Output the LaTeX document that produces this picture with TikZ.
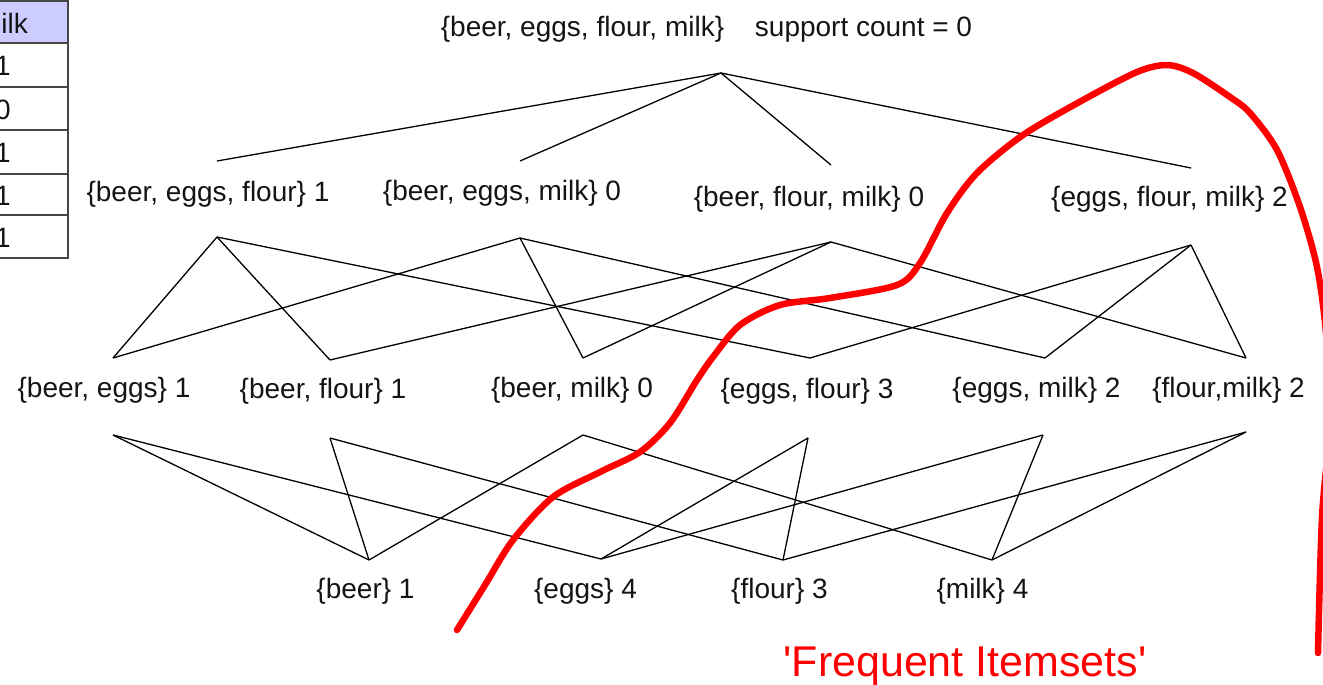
\documentclass[tikz,border=0pt]{standalone}
\usepackage{fontspec}
\setmainfont{Liberation Sans}
\definecolor{hdrfill}{RGB}{204,204,255}
\definecolor{tblline}{RGB}{70,70,70}
\definecolor{txt}{RGB}{20,20,20}
\definecolor{curvered}{RGB}{255,0,0}
\begin{document}
\begin{tikzpicture}[x=1pt,y=-1pt,
  lbl/.style={font=\fontsize{28}{32}\selectfont, inner sep=0pt, text=txt, anchor=base},
  cell/.style={font=\fontsize{28}{32}\selectfont, inner sep=0pt, text=txt},
  edge/.style={draw=black, line width=1.3pt},
  border/.style={draw=tblline, line width=2pt},
  frontier/.style={draw=curvered, line width=6.5pt, line cap=round, line join=round},
  redtext/.style={font=\fontsize{43}{50}\selectfont, inner sep=0pt, text=curvered, anchor=base}]
\useasboundingbox (0,0) rectangle (1323,685);
\clip (0,0) rectangle (1323,685);

% table (partly cut off at the left)
\fill[hdrfill] (-62,1) rectangle (68,43);
\draw[border] (-62,1) rectangle (68,258);
\foreach \yy in {43,87,130,174,215} \draw[border] (-62,\yy) -- (68,\yy);
\node[cell] (hmilk) at (3,23) {milk};
\node[cell] (r1) at (3,66) {1};
\node[cell] (r2) at (3,109.5) {0};
\node[cell] (r3) at (3,153) {1};
\node[cell] (r4) at (3,195.5) {1};
\node[cell] (r5) at (3,237.5) {1};

% labels
\node[lbl] (all) at (582.5,37) {\{beer, eggs, flour, milk\}};
\node[lbl] (sc) at (863.5,37) {support count = 0};

\node[lbl] (BEF) at (208,201) {\{beer, eggs, flour\} 1};
\node[lbl] (BEM) at (502,200) {\{beer, eggs, milk\} 0};
\node[lbl] (BFM) at (809,206) {\{beer, flour, milk\} 0};
\node[lbl] (EFM) at (1169.5,206) {\{eggs, flour, milk\} 2};

\node[lbl] (BE) at (104,397) {\{beer, eggs\} 1};
\node[lbl] (BF) at (323,398) {\{beer, flour\} 1};
\node[lbl] (BM) at (572,397) {\{beer, milk\} 0};
\node[lbl] (EF) at (807,398) {\{eggs, flour\} 3};
\node[lbl] (EM) at (1036.5,397) {\{eggs, milk\} 2};
\node[lbl] (FM) at (1228.5,397) {\{flour,milk\} 2};

\node[lbl] (B) at (365.5,598) {\{beer\} 1};
\node[lbl] (E) at (585.5,598) {\{eggs\} 4};
\node[lbl] (F) at (779.5,598) {\{flour\} 3};
\node[lbl] (M) at (982.5,598) {\{milk\} 4};

\node[redtext] (freq) at (965,676) {\textquotesingle Frequent Itemsets\textquotesingle};

% connection points
\coordinate (allb) at (721,73);
\coordinate (BEFt) at (217,161);  \coordinate (BEFb) at (217,237);
\coordinate (BEMt) at (520,161);  \coordinate (BEMb) at (520,238);
\coordinate (BFMt) at (831,165);  \coordinate (BFMb) at (831,242);
\coordinate (EFMt) at (1191,168); \coordinate (EFMb) at (1191,245);
\coordinate (BEt) at (113,358);   \coordinate (BEb) at (113,435);
\coordinate (BFt) at (330,360);   \coordinate (BFb) at (330,438);
\coordinate (BMt) at (583,358);   \coordinate (BMb) at (583,435);
\coordinate (EFt) at (810,358);   \coordinate (EFb) at (808,438);
\coordinate (EMt) at (1045,358);  \coordinate (EMb) at (1043,435);
\coordinate (FMt) at (1246,358);  \coordinate (FMb) at (1246,432);
\coordinate (Bt) at (369,560);
\coordinate (Et) at (601,559);
\coordinate (Ft) at (783,560);
\coordinate (Mt) at (992,560);

% level 0 -> 1
\foreach \t in {BEF,BEM,BFM,EFM} \draw[edge] (allb) -- (\t t);
% level 1 -> 2
\draw[edge] (BEFb) -- (BEt); \draw[edge] (BEFb) -- (BFt); \draw[edge] (BEFb) -- (EFt);
\draw[edge] (BEMb) -- (BEt); \draw[edge] (BEMb) -- (BMt); \draw[edge] (BEMb) -- (EMt);
\draw[edge] (BFMb) -- (BFt); \draw[edge] (BFMb) -- (BMt); \draw[edge] (BFMb) -- (FMt);
\draw[edge] (EFMb) -- (EFt); \draw[edge] (EFMb) -- (EMt); \draw[edge] (EFMb) -- (FMt);
% level 2 -> 3
\draw[edge] (BEb) -- (Bt); \draw[edge] (BEb) -- (Et);
\draw[edge] (BFb) -- (Bt); \draw[edge] (BFb) -- (Ft);
\draw[edge] (BMb) -- (Bt); \draw[edge] (BMb) -- (Mt);
\draw[edge] (EFb) -- (Et); \draw[edge] (EFb) -- (Ft);
\draw[edge] (EMb) -- (Et); \draw[edge] (EMb) -- (Mt);
\draw[edge] (FMb) -- (Ft); \draw[edge] (FMb) -- (Mt);

% frontier curve
\draw[frontier] plot[smooth, tension=0.5] coordinates {
 (457,630) (485,585) (513,540) (553,497) (600,472) (640,452) (670,423)
 (697,380) (713,357) (740,325) (780,305) (830,298) (897,285) (920,263)
 (947,213) (977,173) (1023,135) (1083,100) (1137,72) (1167,65) (1193,73)
 (1230,97) (1250,113) (1277,150) (1300,207) (1317,267) (1326,333)
 (1330,420) (1322,517) (1318,653)};
\end{tikzpicture}
\end{document}
